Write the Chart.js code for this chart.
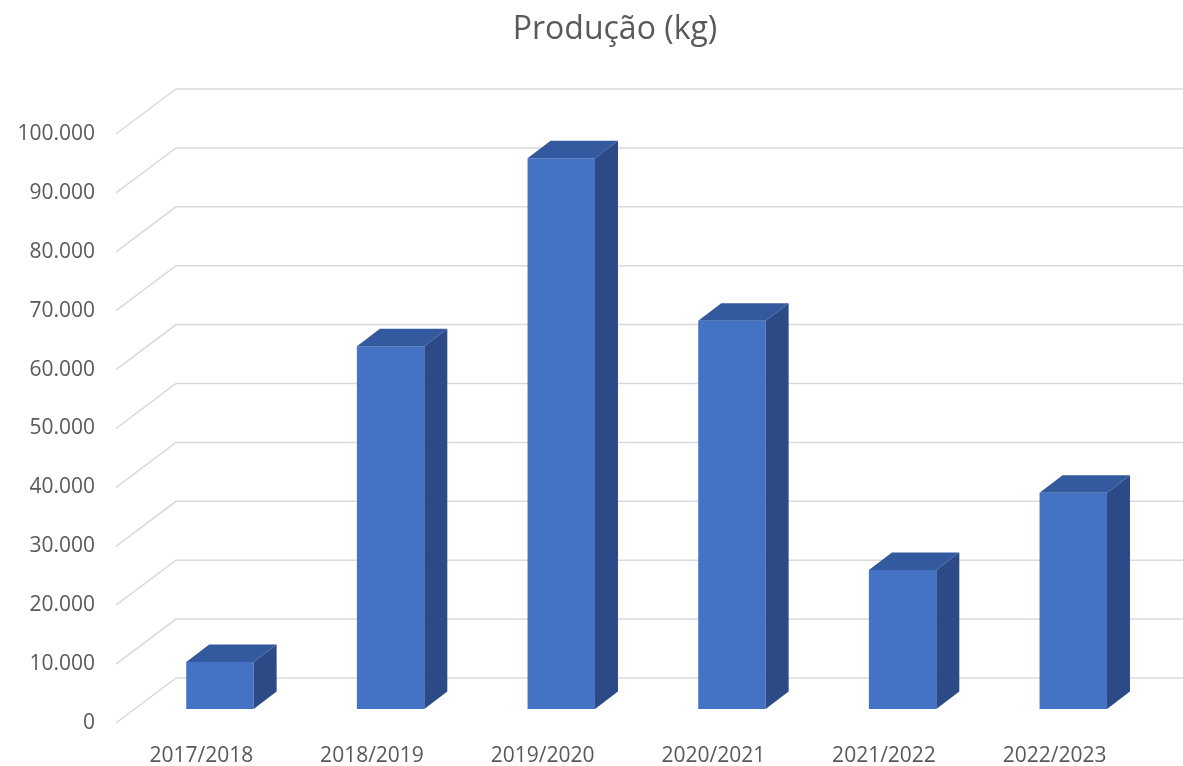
<!DOCTYPE html>
<html>
<head>
<meta charset="utf-8">
<script src="https://cdn.jsdelivr.net/npm/chart.js@4/dist/chart.umd.min.js"></script>
<style>
  html, body { margin: 0; padding: 0; background: #fff; }
  #wrap { width: 1183px; height: 766px; }
</style>
</head>
<body>
<div id="wrap"><canvas id="producao"></canvas></div>
<script>
const titulo = 'Produção (kg)';
const safras = ['2017/2018', '2018/2019', '2019/2020', '2020/2021', '2021/2022', '2022/2023'];
const producao = [8000, 61600, 93500, 65900, 23600, 36700];
const ticksY = [0, 10000, 20000, 30000, 40000, 50000, 60000, 70000, 80000, 90000, 100000];

const cinza = '#595959';
const fonte = "'Open Sans', sans-serif";

// profundidade da parede e das barras
const parede = { dx: 60, dy: -45 };
const recuo = { dx: 18.6, dy: -14 };
const prof = { dx: 23, dy: -17.5 };

function formata(v) {
    return String(v).replace(/\B(?=(\d{3})+(?!\d))/g, '.');
}

const efeito3d = {
    id: 'efeito3d',
    beforeDatasetsDraw(chart) {
        const c = chart.ctx;
        const y = chart.scales.y;
        const area = chart.chartArea;
        c.save();
        c.strokeStyle = '#d9d9d9';
        c.lineWidth = 1.5;
        ticksY.forEach(function (t) {
            const py = y.getPixelForValue(t);
            c.beginPath();
            c.moveTo(area.left, py);
            c.lineTo(area.left + parede.dx, py + parede.dy);
            c.lineTo(chart.width, py + parede.dy);
            c.stroke();
        });
        c.restore();
        c.save();
        c.translate(recuo.dx, recuo.dy);
    },
    afterDatasetsDraw(chart) {
        const c = chart.ctx;
        chart.getDatasetMeta(0).data.forEach(function (bar) {
            const x0 = bar.x - bar.width / 2;
            const x1 = bar.x + bar.width / 2;
            const yt = bar.y;
            const yb = bar.base;
            // topo
            c.fillStyle = '#335a9f';
            c.beginPath();
            c.moveTo(x0, yt);
            c.lineTo(x1, yt);
            c.lineTo(x1 + prof.dx, yt + prof.dy);
            c.lineTo(x0 + prof.dx, yt + prof.dy);
            c.closePath();
            c.fill();
            // lateral
            c.fillStyle = '#2b4a86';
            c.beginPath();
            c.moveTo(x1, yt);
            c.lineTo(x1 + prof.dx, yt + prof.dy);
            c.lineTo(x1 + prof.dx, yb + prof.dy);
            c.lineTo(x1, yb);
            c.closePath();
            c.fill();
        });
        c.restore();
    },
    afterDraw(chart) {
        const c = chart.ctx;
        c.save();
        c.fillStyle = cinza;
        c.font = "32px " + fonte;
        c.textAlign = 'center';
        c.textBaseline = 'middle';
        c.fillText(titulo, 615, 30);
        c.restore();
    }
};

new Chart(document.getElementById('producao'), {
    type: 'bar',
    data: {
        labels: safras,
        datasets: [{
            label: 'Produção (kg)',
            data: producao,
            backgroundColor: '#4472c4',
            borderWidth: 0,
            barPercentage: 0.395,
            categoryPercentage: 1
        }]
    },
    options: {
        responsive: true,
        maintainAspectRatio: false,
        animation: false,
        layout: {
            padding: { top: 134, right: 43, bottom: 0, left: 0 }
        },
        scales: {
            x: {
                afterFit(scale) { scale.height = 43; },
                grid: { display: false, drawTicks: false },
                border: { display: false },
                ticks: {
                    color: cinza,
                    font: { family: fonte, size: 21 },
                    padding: 20,
                    maxRotation: 0
                }
            },
            y: {
                min: 0,
                max: 100000,
                afterFit(scale) { scale.width = 116; },
                afterBuildTicks(scale) { scale.ticks = ticksY.map(v => ({ value: v })); },
                grid: { display: false, drawTicks: false },
                border: { display: false },
                ticks: {
                    color: cinza,
                    font: { family: fonte, size: 21 },
                    padding: 21,
                    callback: v => formata(v)
                }
            }
        },
        plugins: {
            legend: { display: false },
            title: { display: false },
            tooltip: { enabled: false }
        }
    },
    plugins: [efeito3d]
});
</script>
</body>
</html>
